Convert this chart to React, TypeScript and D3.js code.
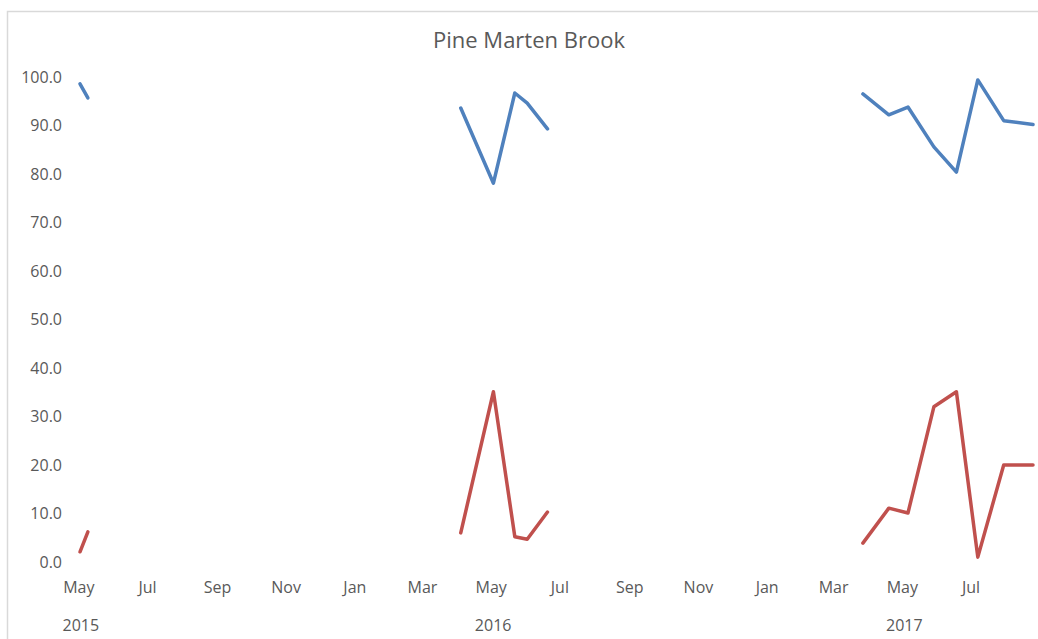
import React from "react";
import * as d3 from "d3";

// Survey dates and the two measured series (blanks between seasons break the lines)
const sampleDates: string[] = [
  "2015-05-02", "2015-05-09",
  "2016-04-04", "2016-05-03", "2016-05-22", "2016-06-02", "2016-06-20",
  "2017-03-27", "2017-04-19", "2017-05-06", "2017-05-29", "2017-06-18",
  "2017-07-07", "2017-07-30", "2017-08-25",
];
const upperValues: number[] = [
  98.6, 95.7,
  93.6, 78.1, 96.7, 94.6, 89.3,
  96.5, 92.2, 93.8, 85.6, 80.4, 99.4, 91.0, 90.2,
];
const lowerValues: number[] = [
  2.1, 6.2,
  6.0, 35.1, 5.2, 4.7, 10.3,
  3.9, 11.1, 10.1, 32.0, 35.1, 1.0, 20.0, 20.0,
];
const yTicks: number[] = [0, 10, 20, 30, 40, 50, 60, 70, 80, 90, 100];
const yearLabels: string[] = ["2015", "2016", "2017"];
const title = "Pine Marten Brook";

const W = 1038;
const H = 639;
const FONT = "'Open Sans', sans-serif";
const TEXT = "#595959";

type Pt = { date: Date; value: number };

export default function App() {
  const parse = d3.timeParse("%Y-%m-%d");
  const dates = sampleDates.map((s) => parse(s) as Date);

  const x = d3
    .scaleTime()
    .domain(d3.extent(dates) as [Date, Date])
    .range([80, 1033]);
  const y = d3.scaleLinear().domain([0, 100]).range([562, 77]);

  const line = d3
    .line<Pt>()
    .x((d) => x(d.date))
    .y((d) => y(d.value));

  const segments = (vals: number[]) =>
    d3
      .groups(
        dates.map((d, i) => ({ date: d, value: vals[i] })),
        (p) => p.date.getFullYear()
      )
      .map(([, pts]) => pts);

  const monthTicks = d3.timeMonth
    .every(2)!
    .range(d3.timeMonth.floor(x.domain()[0]), x.domain()[1]);
  const fmtMonth = d3.timeFormat("%b");
  const fmtY = d3.format(".1f");

  const series = [
    { vals: upperValues, color: "#4F81BD" },
    { vals: lowerValues, color: "#C0504D" },
  ];

  return (
    <svg width={W} height={H} style={{ display: "block", fontFamily: FONT }}>
      <style>{`body{margin:0}`}</style>
      <rect x={0} y={0} width={W} height={H} fill="#fff" />
      <rect
        x={7.5}
        y={11.5}
        width={W + 20}
        height={H + 20}
        fill="none"
        stroke="#d9d9d9"
        strokeWidth={1.5}
      />
      <text
        x={529}
        y={48}
        textAnchor="middle"
        fontSize={22}
        fill={TEXT}
      >
        {title}
      </text>

      {yTicks.map((t) => (
        <text
          key={t}
          x={62}
          y={y(t)}
          dy="0.36em"
          textAnchor="end"
          fontSize={16}
          fill={TEXT}
        >
          {fmtY(t)}
        </text>
      ))}

      {monthTicks.map((m) => (
        <text
          key={m.toISOString()}
          x={x(m)}
          y={593}
          textAnchor="middle"
          fontSize={16}
          fill={TEXT}
        >
          {fmtMonth(m)}
        </text>
      ))}

      {yearLabels.map((yr) => (
        <text
          key={yr}
          x={x(new Date(+yr, 4, 1)) + 2}
          y={631}
          textAnchor="middle"
          fontSize={16}
          fill={TEXT}
        >
          {yr}
        </text>
      ))}

      {series.map((s, si) =>
        segments(s.vals).map((pts, i) => (
          <path
            key={`${si}-${i}`}
            d={line(pts) ?? ""}
            fill="none"
            stroke={s.color}
            strokeWidth={3.5}
            strokeLinejoin="round"
            strokeLinecap="round"
          />
        ))
      )}
    </svg>
  );
}
